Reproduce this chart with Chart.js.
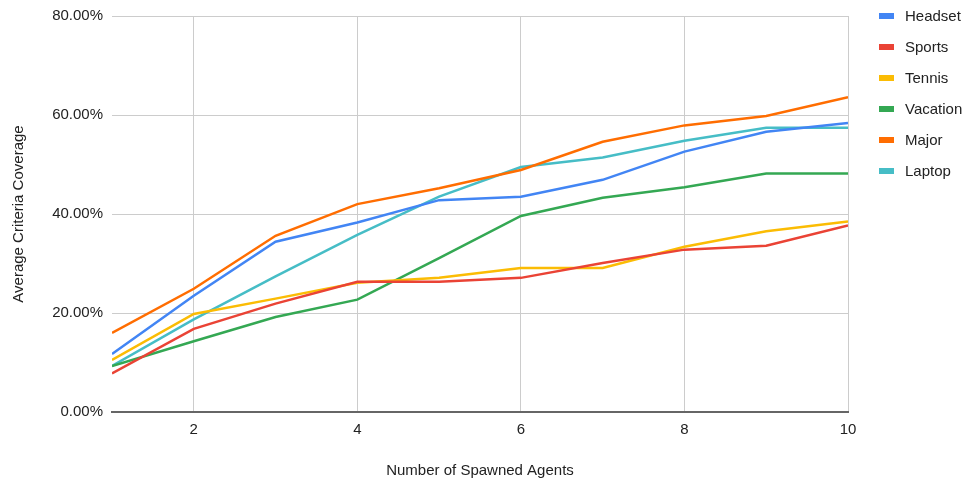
<!DOCTYPE html>
<html>
<head>
<meta charset="utf-8">
<script src="https://cdn.jsdelivr.net/npm/chart.js@4"></script>
<style>
html,body{margin:0;padding:0;background:#fff;}
#wrap{width:967px;height:480px;position:relative;}
</style>
</head>
<body>
<div id="wrap"><canvas id="c" width="967" height="480"></canvas></div>
<script>
const agents = [1,2,3,4,5,6,7,8,9,10];
const headset  = [11.7, 23.5, 34.4, 38.3, 42.8, 43.5, 46.9, 52.6, 56.6, 58.4];
const sports   = [7.8, 16.8, 21.9, 26.3, 26.3, 27.1, 30.1, 32.8, 33.6, 37.7];
const tennis   = [10.5, 19.8, 22.9, 26.1, 27.1, 29.1, 29.1, 33.4, 36.5, 38.5];
const vacation = [9.3, 14.3, 19.2, 22.7, 31.1, 39.6, 43.3, 45.4, 48.2, 48.2];
const major    = [16.0, 24.9, 35.6, 42.0, 45.2, 48.9, 54.6, 57.9, 59.8, 63.6];
const laptop   = [9.3, 18.7, 27.4, 35.8, 43.5, 49.5, 51.4, 54.8, 57.4, 57.4];
const xTicks = [2,4,6,8,10];
const yTicks = [0,20,40,60,80];

const seriesNames = ['Headset','Sports','Tennis','Vacation','Major','Laptop'];
const seriesValues = [headset, sports, tennis, vacation, major, laptop];
const seriesColors = ['#4285F4','#EA4335','#FBBC04','#34A853','#FF6D01','#46BDC6'];

const FONT = "'Liberation Sans', Arial, sans-serif";

const legendPlugin = {
  id: 'sideLegend',
  afterDraw(chart) {
    const ctx = chart.ctx;
    ctx.save();
    ctx.font = '15px ' + FONT;
    ctx.textBaseline = 'middle';
    ctx.textAlign = 'left';
    chart.data.datasets.forEach((ds, i) => {
      const y = 16 + i * 31;
      ctx.fillStyle = ds.borderColor;
      ctx.fillRect(879, y - 3, 15, 6);
      ctx.fillStyle = '#222';
      ctx.fillText(ds.label, 905, y + 1);
    });
    ctx.restore();
  }
};

new Chart(document.getElementById('c'), {
  type: 'line',
  data: {
    datasets: seriesNames.map((n, i) => ({
      label: n,
      data: agents.map((a, j) => ({x: a, y: seriesValues[i][j]})),
      borderColor: seriesColors[i],
      backgroundColor: seriesColors[i],
      borderWidth: 2.5,
      pointRadius: 0,
      tension: 0,
      fill: false
    }))
  },
  options: {
    responsive: false,
    animation: false,
    devicePixelRatio: 1,
    layout: { padding: { top: 16, right: 119, left: 0, bottom: 0 } },
    plugins: { legend: { display: false }, tooltip: { enabled: false } },
    scales: {
      x: {
        type: 'linear',
        min: 1, max: 10,
        afterBuildTicks: s => { s.ticks = xTicks.map(v => ({value: v})); },
        afterFit: s => { s.height = 68; s.paddingLeft = 0; s.paddingRight = 0; },
        grid: { color: '#cccccc', lineWidth: 1, drawTicks: false },
        border: { display: true, color: '#666666', width: 2 },
        ticks: { font: { family: FONT, size: 15 }, color: '#222', padding: 9, maxRotation: 0 },
        title: { display: true, text: 'Number of Spawned Agents', font: { family: FONT, size: 15 }, color: '#222', padding: { top: 0, bottom: 0 } }
      },
      y: {
        min: 0, max: 80,
        afterBuildTicks: s => { s.ticks = yTicks.map(v => ({value: v})); },
        afterFit: s => { s.width = 112; s.paddingTop = 0; s.paddingBottom = 0; },
        grid: { color: '#cccccc', lineWidth: 1, drawTicks: false },
        border: { display: false },
        ticks: { font: { family: FONT, size: 15 }, color: '#222', padding: 9, callback: v => v.toFixed(2) + '%' },
        title: { display: true, text: 'Average Criteria Coverage', font: { family: FONT, size: 15 }, color: '#222', padding: { top: 10, bottom: 0 } }
      }
    }
  },
  plugins: [legendPlugin]
});
</script>
</body>
</html>
